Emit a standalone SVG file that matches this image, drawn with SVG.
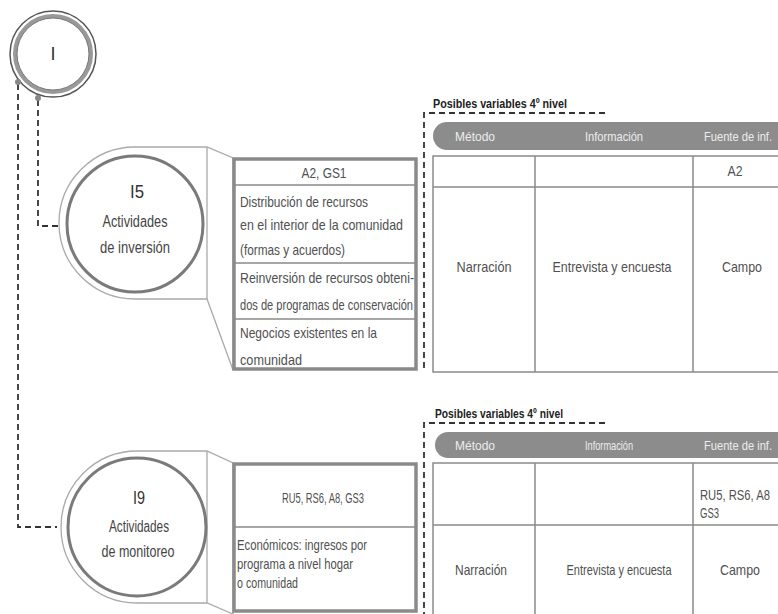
<svg xmlns="http://www.w3.org/2000/svg" width="778" height="614" viewBox="0 0 778 614">
<style>
.t{font-family:"Liberation Sans",Arial,sans-serif;fill:#505050;font-size:15px}
.c{text-anchor:middle}
.e{text-anchor:end}
.lbl{font-family:"Liberation Sans",Arial,sans-serif;fill:#444;font-size:16px;text-anchor:middle}
.num{font-family:"Liberation Sans",Arial,sans-serif;fill:#333;font-size:18px;text-anchor:middle}
.ttl{font-family:"Liberation Sans",Arial,sans-serif;fill:#222;font-size:12px;font-weight:bold}
.hd{font-family:"Liberation Sans",Arial,sans-serif;fill:#ececec;font-size:13px}
.hbar{fill:#8c8c8c}
.grid{fill:none;stroke:#8a8a8a;stroke-width:1.5}
.box{fill:#fff;stroke:#8a8a8a;stroke-width:3.5}
.sep{stroke:#8a8a8a;stroke-width:1.5}
.outer{fill:#fff;stroke:#aaa;stroke-width:1.3}
.inner{fill:none;stroke:#7a7a7a;stroke-width:3}
.dash{fill:none;stroke:#333;stroke-width:1.8;stroke-dasharray:6 4}
</style>

<g id="connectors">
  <path class="dash" d="M18,84 V527 H57"/>
  <path class="dash" d="M38,100 V226 H59"/>
</g>

<g id="node-I">
  <circle cx="53" cy="54" r="43" fill="#fff" stroke="#555" stroke-width="1.5"/>
  <circle cx="53" cy="54" r="38" fill="none" stroke="#999" stroke-width="4"/>
  <circle cx="53" cy="54" r="36" fill="none" stroke="#777" stroke-width="1"/>
  <circle cx="18" cy="82" r="3" fill="#888"/>
  <circle cx="38" cy="98" r="3" fill="#888"/>
  <text class="num" x="53" y="60">I</text>
</g>

<g id="node-I5">
  <path class="outer" d="M135,147 A76,76 0 0 0 135,299 H207 L233,370 V158 L207,147 Z"/>
  <line class="outer" x1="207" y1="147" x2="207" y2="299"/>
  <circle class="inner" cx="135" cy="224" r="68"/>
  <text class="num" x="137" y="198" textLength="14" lengthAdjust="spacingAndGlyphs">I5</text>
  <text class="lbl" x="135" y="227" textLength="65" lengthAdjust="spacingAndGlyphs">Actividades</text>
  <text class="lbl" x="135" y="253" textLength="70" lengthAdjust="spacingAndGlyphs">de inversión</text>
</g>

<g id="box-I5">
  <rect class="box" x="234" y="159" width="182" height="210"/>
  <line class="sep" x1="235" y1="185" x2="415" y2="185"/>
  <line class="sep" x1="235" y1="263" x2="415" y2="263"/>
  <line class="sep" x1="235" y1="319" x2="415" y2="319"/>
  <text class="t c" x="324" y="178" textLength="45" lengthAdjust="spacingAndGlyphs">A2, GS1</text>
  <text class="t" x="240" y="207" textLength="128" lengthAdjust="spacingAndGlyphs">Distribución de recursos</text>
  <text class="t" x="240" y="230" textLength="163" lengthAdjust="spacingAndGlyphs">en el interior de la comunidad</text>
  <text class="t" x="240" y="255" textLength="105" lengthAdjust="spacingAndGlyphs">(formas y acuerdos)</text>
  <text class="t" x="240" y="283" textLength="174" lengthAdjust="spacingAndGlyphs">Reinversión de recursos obteni-</text>
  <text class="t" x="240" y="310" textLength="173" lengthAdjust="spacingAndGlyphs">dos de programas de conservación</text>
  <text class="t" x="240" y="338" textLength="137" lengthAdjust="spacingAndGlyphs">Negocios existentes en la</text>
  <text class="t" x="240" y="365" textLength="62" lengthAdjust="spacingAndGlyphs">comunidad</text>
</g>

<g id="table-1">
  <text class="ttl" x="433" y="108" textLength="134" lengthAdjust="spacingAndGlyphs">Posibles variables 4º nivel</text>
  <path class="dash" d="M605,113 H424 V372"/>
  <path class="hbar" d="M447,122 H778 V150 H447 A14,14 0 0 1 447,122 Z"/>
  <text class="hd" x="455" y="141" textLength="40" lengthAdjust="spacingAndGlyphs">Método</text>
  <text class="hd" x="585" y="141" textLength="58" lengthAdjust="spacingAndGlyphs">Información</text>
  <text class="hd e" x="772" y="141" textLength="68" lengthAdjust="spacingAndGlyphs">Fuente de inf.</text>
  <path class="grid" d="M778,156 H433 V372 H778 M433,187 H778 M535,156 V372 M693,156 V372"/>
  <text class="t c" x="735" y="176" textLength="15" lengthAdjust="spacingAndGlyphs">A2</text>
  <text class="t c" x="484" y="272" textLength="55" lengthAdjust="spacingAndGlyphs">Narración</text>
  <text class="t c" x="612" y="272" textLength="119" lengthAdjust="spacingAndGlyphs">Entrevista y encuesta</text>
  <text class="t c" x="742" y="272" textLength="40" lengthAdjust="spacingAndGlyphs">Campo</text>
</g>

<g id="node-I9">
  <path class="outer" d="M137,451 A76,76 0 0 0 137,603 H207 L233,614 V463 L207,451 Z"/>
  <line class="outer" x1="207" y1="451" x2="207" y2="603"/>
  <circle class="inner" cx="137" cy="527" r="69"/>
  <text class="num" x="139" y="504" textLength="12" lengthAdjust="spacingAndGlyphs">I9</text>
  <text class="lbl" x="139" y="532" textLength="60" lengthAdjust="spacingAndGlyphs">Actividades</text>
  <text class="lbl" x="138" y="557" textLength="73" lengthAdjust="spacingAndGlyphs">de monitoreo</text>
</g>

<g id="box-I9">
  <rect class="box" x="234" y="464" width="182" height="147"/>
  <line class="sep" x1="235" y1="527" x2="415" y2="527"/>
  <text class="t c" x="323" y="503" textLength="82" lengthAdjust="spacingAndGlyphs">RU5, RS6, A8, GS3</text>
  <text class="t" x="237" y="550" textLength="130" lengthAdjust="spacingAndGlyphs">Económicos: ingresos por</text>
  <text class="t" x="237" y="569" textLength="116" lengthAdjust="spacingAndGlyphs">programa a nivel hogar</text>
  <text class="t" x="237" y="588" textLength="61" lengthAdjust="spacingAndGlyphs">o comunidad</text>
</g>

<g id="table-2">
  <text class="ttl" x="435" y="418" textLength="128" lengthAdjust="spacingAndGlyphs">Posibles variables 4º nivel</text>
  <path class="dash" d="M605,423 H424 V614"/>
  <path class="hbar" d="M448,432 H778 V458 H448 A13,13 0 0 1 448,432 Z"/>
  <text class="hd" x="455" y="450" textLength="40" lengthAdjust="spacingAndGlyphs">Método</text>
  <text class="hd" x="585" y="450" textLength="48" lengthAdjust="spacingAndGlyphs">Información</text>
  <text class="hd e" x="772" y="450" textLength="68" lengthAdjust="spacingAndGlyphs">Fuente de inf.</text>
  <path class="grid" d="M778,463 H433 V614 M433,525 H778 M535,463 V614 M693,463 V614"/>
  <text class="t e" x="770" y="500" textLength="70" lengthAdjust="spacingAndGlyphs">RU5, RS6, A8</text>
  <text class="t" x="700" y="518" textLength="19" lengthAdjust="spacingAndGlyphs">GS3</text>
  <text class="t c" x="481" y="575" textLength="52" lengthAdjust="spacingAndGlyphs">Narración</text>
  <text class="t c" x="619" y="575" textLength="105" lengthAdjust="spacingAndGlyphs">Entrevista y encuesta</text>
  <text class="t c" x="740" y="575" textLength="40" lengthAdjust="spacingAndGlyphs">Campo</text>
</g>
</svg>
